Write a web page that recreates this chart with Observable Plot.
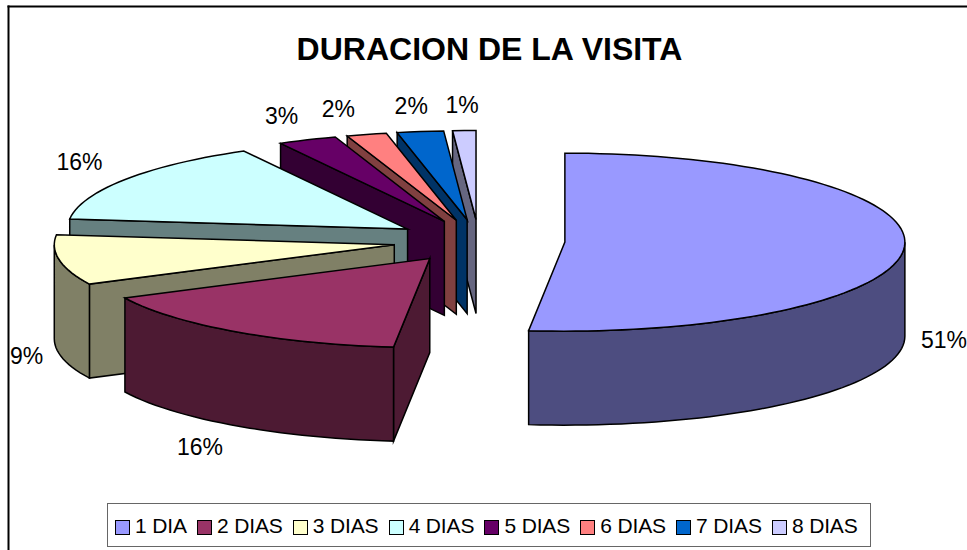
<!DOCTYPE html>
<html>
<head>
<meta charset="utf-8">
<script src="https://cdn.jsdelivr.net/npm/d3@7"></script>
<script src="https://cdn.jsdelivr.net/npm/@observablehq/plot@0.6"></script>
<style>
  html, body { margin: 0; padding: 0; background: #fff; }
  #chart { position: relative; width: 967px; height: 550px; overflow: hidden; font-family: "Liberation Sans", Arial, sans-serif; }
  #legend { position: absolute; left: 107px; top: 503px; width: 764px; height: 44px; box-sizing: border-box; padding: 1px 0 0 7px;
            border: 1px solid #666; background: #fff; display: flex; gap: 10.2px; font-size: 21px; line-height: 30px; color: #000; }
  #legend .item { display: flex; align-items: center; gap: 5px; white-space: nowrap; letter-spacing: -0.15px; }
  #legend .sw { width: 13px; height: 13px; border: 1.5px solid #000; display: inline-block; margin-top: 3px; }
</style>
</head>
<body>
<div id="chart"></div>
<script>
// Data
const categories = ["1 DIA", "2 DIAS", "3 DIAS", "4 DIAS", "5 DIAS", "6 DIAS", "7 DIAS", "8 DIAS"];
const shares = [51.7, 16.0, 9.1, 15.2, 2.8, 1.9, 2.2, 1.1];
const percentLabels = ["51%", "16%", "9%", "16%", "3%", "2%", "2%", "1%"];
const colors = ["#9999FF", "#993366", "#FFFFCC", "#CCFFFF", "#660066", "#FF8080", "#0066CC", "#CCCCFF"];

// View of the 3-D pie
const view = { cx: 478.5, cy: 240.5, rx: 340, ry: 89, ex: 86, ey: 21.5, depth: 94, labelRx: 381, labelMinX: 26, crowdedShift: { "6 DIAS": -11 } };

const rad = (d) => (d * Math.PI) / 180;
const total = d3.sum(shares);
const ends = Array.from(d3.cumsum(shares), (v) => (v / total) * 360);
const slices = categories.map((name, i) => {
  const a0 = i ? ends[i - 1] : 0, a1 = ends[i], mid = (a0 + a1) / 2;
  const c = d3.rgb(colors[i]);
  return {
    name, i, a0, a1, mid, color: colors[i],
    wall: d3.rgb(c.r / 2, c.g / 2, c.b / 2).formatHex(),
    vx: view.cx + view.ex * Math.sin(rad(mid)),
    vy: view.cy - view.ey * Math.cos(rad(mid))
  };
});
const rimPoint = (s, a) => ({ x: s.vx + view.rx * Math.sin(rad(a)), y: s.vy - view.ry * Math.cos(rad(a)) });
const rim = (s, a0, a1) => {
  const n = Math.max(1, Math.ceil((a1 - a0) / 2));
  return d3.range(n + 1).map((k) => rimPoint(s, a0 + ((a1 - a0) * k) / n));
};

// Painter's order: back slices first, then toward the viewer
const polys = [];
let id = 0;
const add = (pts, fill) => { id++; pts.forEach((p) => polys.push({ id, x: p.x, y: p.y, fill })); };
const down = (p) => ({ x: p.x, y: p.y + view.depth });
for (const s of slices.slice().reverse()) {
  const v = { x: s.vx, y: s.vy };
  const start = rimPoint(s, s.a0);
  if (start.x < v.x - 0.01) add([v, start, down(start), down(v)], s.wall);
  const w0 = Math.max(s.a0, 90), w1 = Math.min(s.a1, 270);
  if (w1 > w0) {
    const arc = rim(s, w0, w1);
    add([...arc, ...arc.slice().reverse().map(down)], s.wall);
  }
  add([v, ...rim(s, s.a0, s.a1)], s.color);
}

const labels = slices.map((s) => {
  const c = Math.cos(rad(s.mid)), n = Math.sin(rad(s.mid));
  const off = c < 0 ? view.depth - 2 - 29 * c : -6 - 19 * c;
  const x = s.vx + view.labelRx * n - 25 * Math.abs(n * c) + (view.crowdedShift[s.name] || 0);
  return {
    text: percentLabels[s.i],
    x: Math.max(x, view.labelMinX),
    y: s.vy - view.ry * c + off
  };
});

const fontFamily = '"Liberation Sans", Arial, sans-serif';
const plot = Plot.plot({
  width: 967,
  height: 550,
  marginLeft: 8,
  marginTop: 6,
  marginRight: 0,
  marginBottom: 0,
  x: { domain: [0, 967], range: [0, 967], axis: null },
  y: { domain: [0, 550], range: [0, 550], axis: null },
  style: { background: "#fff", fontFamily, overflow: "hidden" },
  marks: [
    Plot.frame({ anchor: "left", stroke: "#000", strokeWidth: 2 }),
    Plot.frame({ anchor: "top", stroke: "#000", strokeWidth: 2 }),
    Plot.line(polys, {
      x: "x", y: "y", z: "id", fill: "fill", stroke: "#000", strokeWidth: 1.5,
      curve: "linear-closed", strokeLinejoin: "miter", strokeMiterlimit: 6
    }),
    Plot.text(labels, { x: "x", y: "y", text: "text", fontSize: 23, fill: "#000" }),
    Plot.text(["DURACION DE LA VISITA"], { x: [489], y: [49], text: (d) => d, fontSize: 32, fontWeight: "bold", fill: "#000" })
  ]
});

const chart = document.getElementById("chart");
chart.appendChild(plot);
const legend = document.createElement("div");
legend.id = "legend";
categories.forEach((name, i) => {
  const item = document.createElement("span");
  item.className = "item";
  const sw = document.createElement("span");
  sw.className = "sw";
  sw.style.background = colors[i];
  item.appendChild(sw);
  item.appendChild(document.createTextNode(name));
  legend.appendChild(item);
});
chart.appendChild(legend);
</script>
</body>
</html>
